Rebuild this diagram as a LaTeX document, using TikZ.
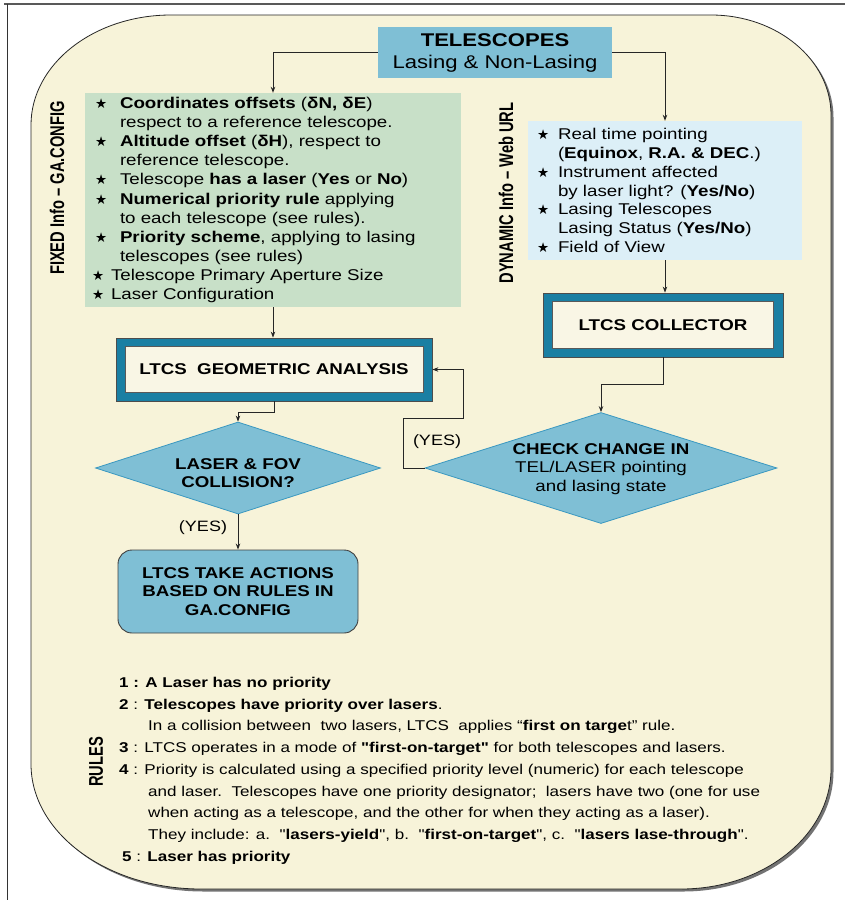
\documentclass[tikz,border=0pt]{standalone}
\usepackage{fontspec}
\usepackage{graphicx}
\setmainfont[FakeStretch=1.2]{Liberation Sans}
\newfontfamily\qfont[FakeStretch=1.2]{Liberation Sans}
\newfontfamily\plainsans{Liberation Sans}
\newfontfamily\symfont{DejaVu Sans}
\usetikzlibrary{shapes.geometric,arrows.meta}
\definecolor{bgcream}{HTML}{F7F3D9}
\definecolor{greenc}{HTML}{C8E0C8}
\definecolor{lightblue}{HTML}{DCEFF7}
\definecolor{midblue}{HTML}{7FBFD5}
\definecolor{tealc}{HTML}{1A7FA3}
\definecolor{innercream}{HTML}{F9F6E5}
\definecolor{diamline}{HTML}{3A98C0}
\newcommand\fs[2]{\fontsize{#1}{#2}\selectfont}
\newcommand\stR{\makebox[25pt][l]{\symfont\fs{13.5}{13}★}}
\newcommand\stS{\makebox[19pt][l]{\symfont\fs{13.5}{13}★}}
\newcommand\stB{\makebox[21pt][l]{\symfont\fs{13.5}{13}★}}
\newcommand\ind[1]{\hspace*{#1}}
\newcommand\dq{{\qfont"}}
\tikzset{
  conn/.style={draw=black!85, line width=0.9pt, -{Stealth[length=6pt,width=4.5pt]}},
  tealbox/.style={fill=tealc, draw=black!70, line width=0.8pt, inner sep=0pt},
  innerbox/.style={fill=innercream, draw=black!65, line width=0.9pt, inner sep=0pt, font=\bfseries\fs{15.6}{18}},
  diam/.style={diamond, aspect=3, fill=midblue, draw=diamline, line width=0.8pt, inner sep=0pt},
  diamtxt/.style={inner sep=0pt, align=center, font=\bfseries\fs{15.6}{18.3}},
  yeslab/.style={font=\fs{15}{16}},
  vlab/.style={rotate=90, inner sep=0pt},
}
\begin{document}
\begin{tikzpicture}[x=1pt,y=1pt]
\useasboundingbox (0,0) rectangle (845,-900);
% frame lines
\draw[line width=2.5pt, black!65] (4,-4) -- (845,-4);
\draw[line width=1pt, black!80] (7,-4) -- (7,-900);
% background shadow and shape
\fill[black!55] (173.5,-17.5) -- (713.5,-17.5) arc[start angle=90, end angle=0, x radius=120, y radius=100] -- (833.5,-771.5) arc[start angle=0, end angle=-90, x radius=150, y radius=120] -- (203.5,-891.5) arc[start angle=270, end angle=180, x radius=170, y radius=125] -- (33.5,-127.5) arc[start angle=180, end angle=90, x radius=140, y radius=110] -- cycle;
\filldraw[fill=bgcream, draw=black!85, line width=0.8pt] (171,-15) -- (711,-15) arc[start angle=90, end angle=0, x radius=120, y radius=100] -- (831,-769) arc[start angle=0, end angle=-90, x radius=150, y radius=120] -- (201,-889) arc[start angle=270, end angle=180, x radius=170, y radius=125] -- (31,-125) arc[start angle=180, end angle=90, x radius=140, y radius=110] -- cycle;

% TELESCOPES
\node[fill=midblue, minimum width=234pt, minimum height=51pt, inner sep=0pt, align=center, font=\fs{18.4}{22}] (tel) at (495,-52.5) {{\bfseries TELESCOPES}\\Lasing \& Non-Lasing};

% fixed info box
\node[fill=greenc, minimum width=376pt, minimum height=214pt, inner sep=0pt] (fixed) at (273,-200) {};
\node[anchor=west, inner sep=0pt, align=left, font=\fs{15.6}{19.1}] (fixedtxt) at ([xshift=10pt,yshift=0pt]fixed.west) {%
\stR\textbf{Coordinates offsets} (\textbf{δN, δE})\\
\ind{25pt}respect to a reference telescope.\\
\stR\textbf{Altitude offset} (\textbf{δH}), respect to\\
\ind{25pt}reference telescope.\\
\stR Telescope \textbf{has a laser} (\textbf{Yes} or \textbf{No})\\
\stR\textbf{Numerical priority rule} applying\\
\ind{25pt}to each telescope (see rules).\\
\stR\textbf{Priority scheme}, applying to lasing\\
\ind{25pt}telescopes (see rules)\\
\hspace*{-3pt}\stS Telescope Primary Aperture Size\\
\hspace*{-3pt}\stS Laser Configuration};

% dynamic info box
\node[fill=lightblue, minimum width=274pt, minimum height=139pt, inner sep=0pt] (dyn) at (665,-190.5) {};
\node[anchor=west, inner sep=0pt, align=left, font=\fs{15.6}{18.7}] (dyntxt) at ([xshift=9pt]dyn.west) {%
\stB Real time pointing\\
\ind{21pt}(\textbf{Equinox}, \textbf{R.A. \& DEC}.)\\
\stB Instrument affected\\
\ind{21pt}by laser light? (\textbf{Yes/No})\\
\stB Lasing Telescopes\\
\ind{21pt}Lasing Status (\textbf{Yes/No})\\
\stB Field of View};

% vertical labels
\node[vlab] (fixlab) at (57,-188) {\scalebox{1}[1.35]{\plainsans\bfseries\fs{14.7}{16}FIXED Info – GA.CONFIG}};
\node[vlab] (dynlab) at (506,-193) {\scalebox{1}[1.35]{\plainsans\bfseries\fs{14.7}{16}DYNAMIC Info – Web URL}};
\node[vlab] (rulelab) at (96,-762) {\scalebox{1}[1.35]{\plainsans\bfseries\fs{14.7}{16}RULES}};

% geometric analysis
\node[tealbox, minimum width=316pt, minimum height=63pt] (geo) at (274,-369.5) {};
\node[innerbox, minimum width=298pt, minimum height=46pt] (geoin) at (geo.center) {LTCS\ \ GEOMETRIC ANALYSIS};

% collector
\node[tealbox, minimum width=240pt, minimum height=64pt] (coll) at (663,-325) {};
\node[innerbox, minimum width=221pt, minimum height=47pt] (collin) at (coll.center) {LTCS COLLECTOR};

% diamonds
\node[diam, minimum width=285pt, minimum height=92pt] (d1) at (238,-468) {};
\node[diamtxt] (d1t) at ([yshift=-5pt]d1.center) {LASER \& FOV\\COLLISION?};
\node[diam, minimum width=352pt, minimum height=111pt] (d2) at (601,-468) {};
\node[diamtxt, font=\fs{15.6}{18.5}] (d2t) at ([yshift=-1pt]d2.center) {\textbf{CHECK CHANGE IN}\\TEL/LASER pointing\\and lasing state};

% action box
\node[fill=midblue, draw=black!75, line width=0.9pt, rounded corners=14pt, minimum width=240pt, minimum height=83pt, inner sep=0pt, align=center, font=\bfseries\fs{15.6}{18.5}] (act) at (238,-591.5) {LTCS TAKE ACTIONS\\BASED ON RULES IN\\GA.CONFIG};

% yes labels
\node[yeslab] (yes1) at (203,-528) {(YES)};
\node[yeslab] (yes2) at (437,-442) {(YES)};

% connectors
\draw[conn] (tel.west) -| (fixed.north);
\draw[conn] (tel.east) -| (dyn.north);
\draw[conn] (fixed.south) -- (fixed.south |- geo.north);
\draw[conn] (dyn.south) -- (dyn.south |- coll.north);
\draw[conn] (geo.south) -- ++(0,-11) -| (d1.north);
\draw[conn] (coll.south) -- ++(0,-27) -| (d2.north);
\draw[conn] (d1.south) -- (act.north);
\draw[conn] (d2.west) -- ++(-21,0) -- ++(0,50) -- ++(60,0) |- (geo.east);

% rules
\node[anchor=north west, inner sep=0pt, align=left, font=\fs{14.2}{21.7}] (rules) at (119,-677) {%
\textbf{1 : A Laser has no priority}\\
\textbf{2} : \textbf{Telescopes have priority over lasers}.\\
\ind{29pt}In a collision between\ \ two lasers, LTCS\ \ applies “\textbf{first on targe}t” rule.\\
\textbf{3} : LTCS operates in a mode of \textbf{\dq first-on-target\dq} for both telescopes and lasers.\\
\textbf{4} : Priority is calculated using a specified priority level (numeric) for each telescope\\
\ind{29pt}and laser.\ \ Telescopes have one priority designator;\ \ lasers have two (one for use\\
\ind{29pt}when acting as a telescope, and the other for when they acting as a laser).\\
\ind{29pt}They include: a.\ \ \dq\textbf{lasers-yield}\dq, b.\ \ \dq\textbf{first-on-target}\dq, c.\ \ \dq\textbf{lasers lase-through}\dq.\\
\ind{3pt}\textbf{5} : \textbf{Laser has priority}};
\end{tikzpicture}
\end{document}
